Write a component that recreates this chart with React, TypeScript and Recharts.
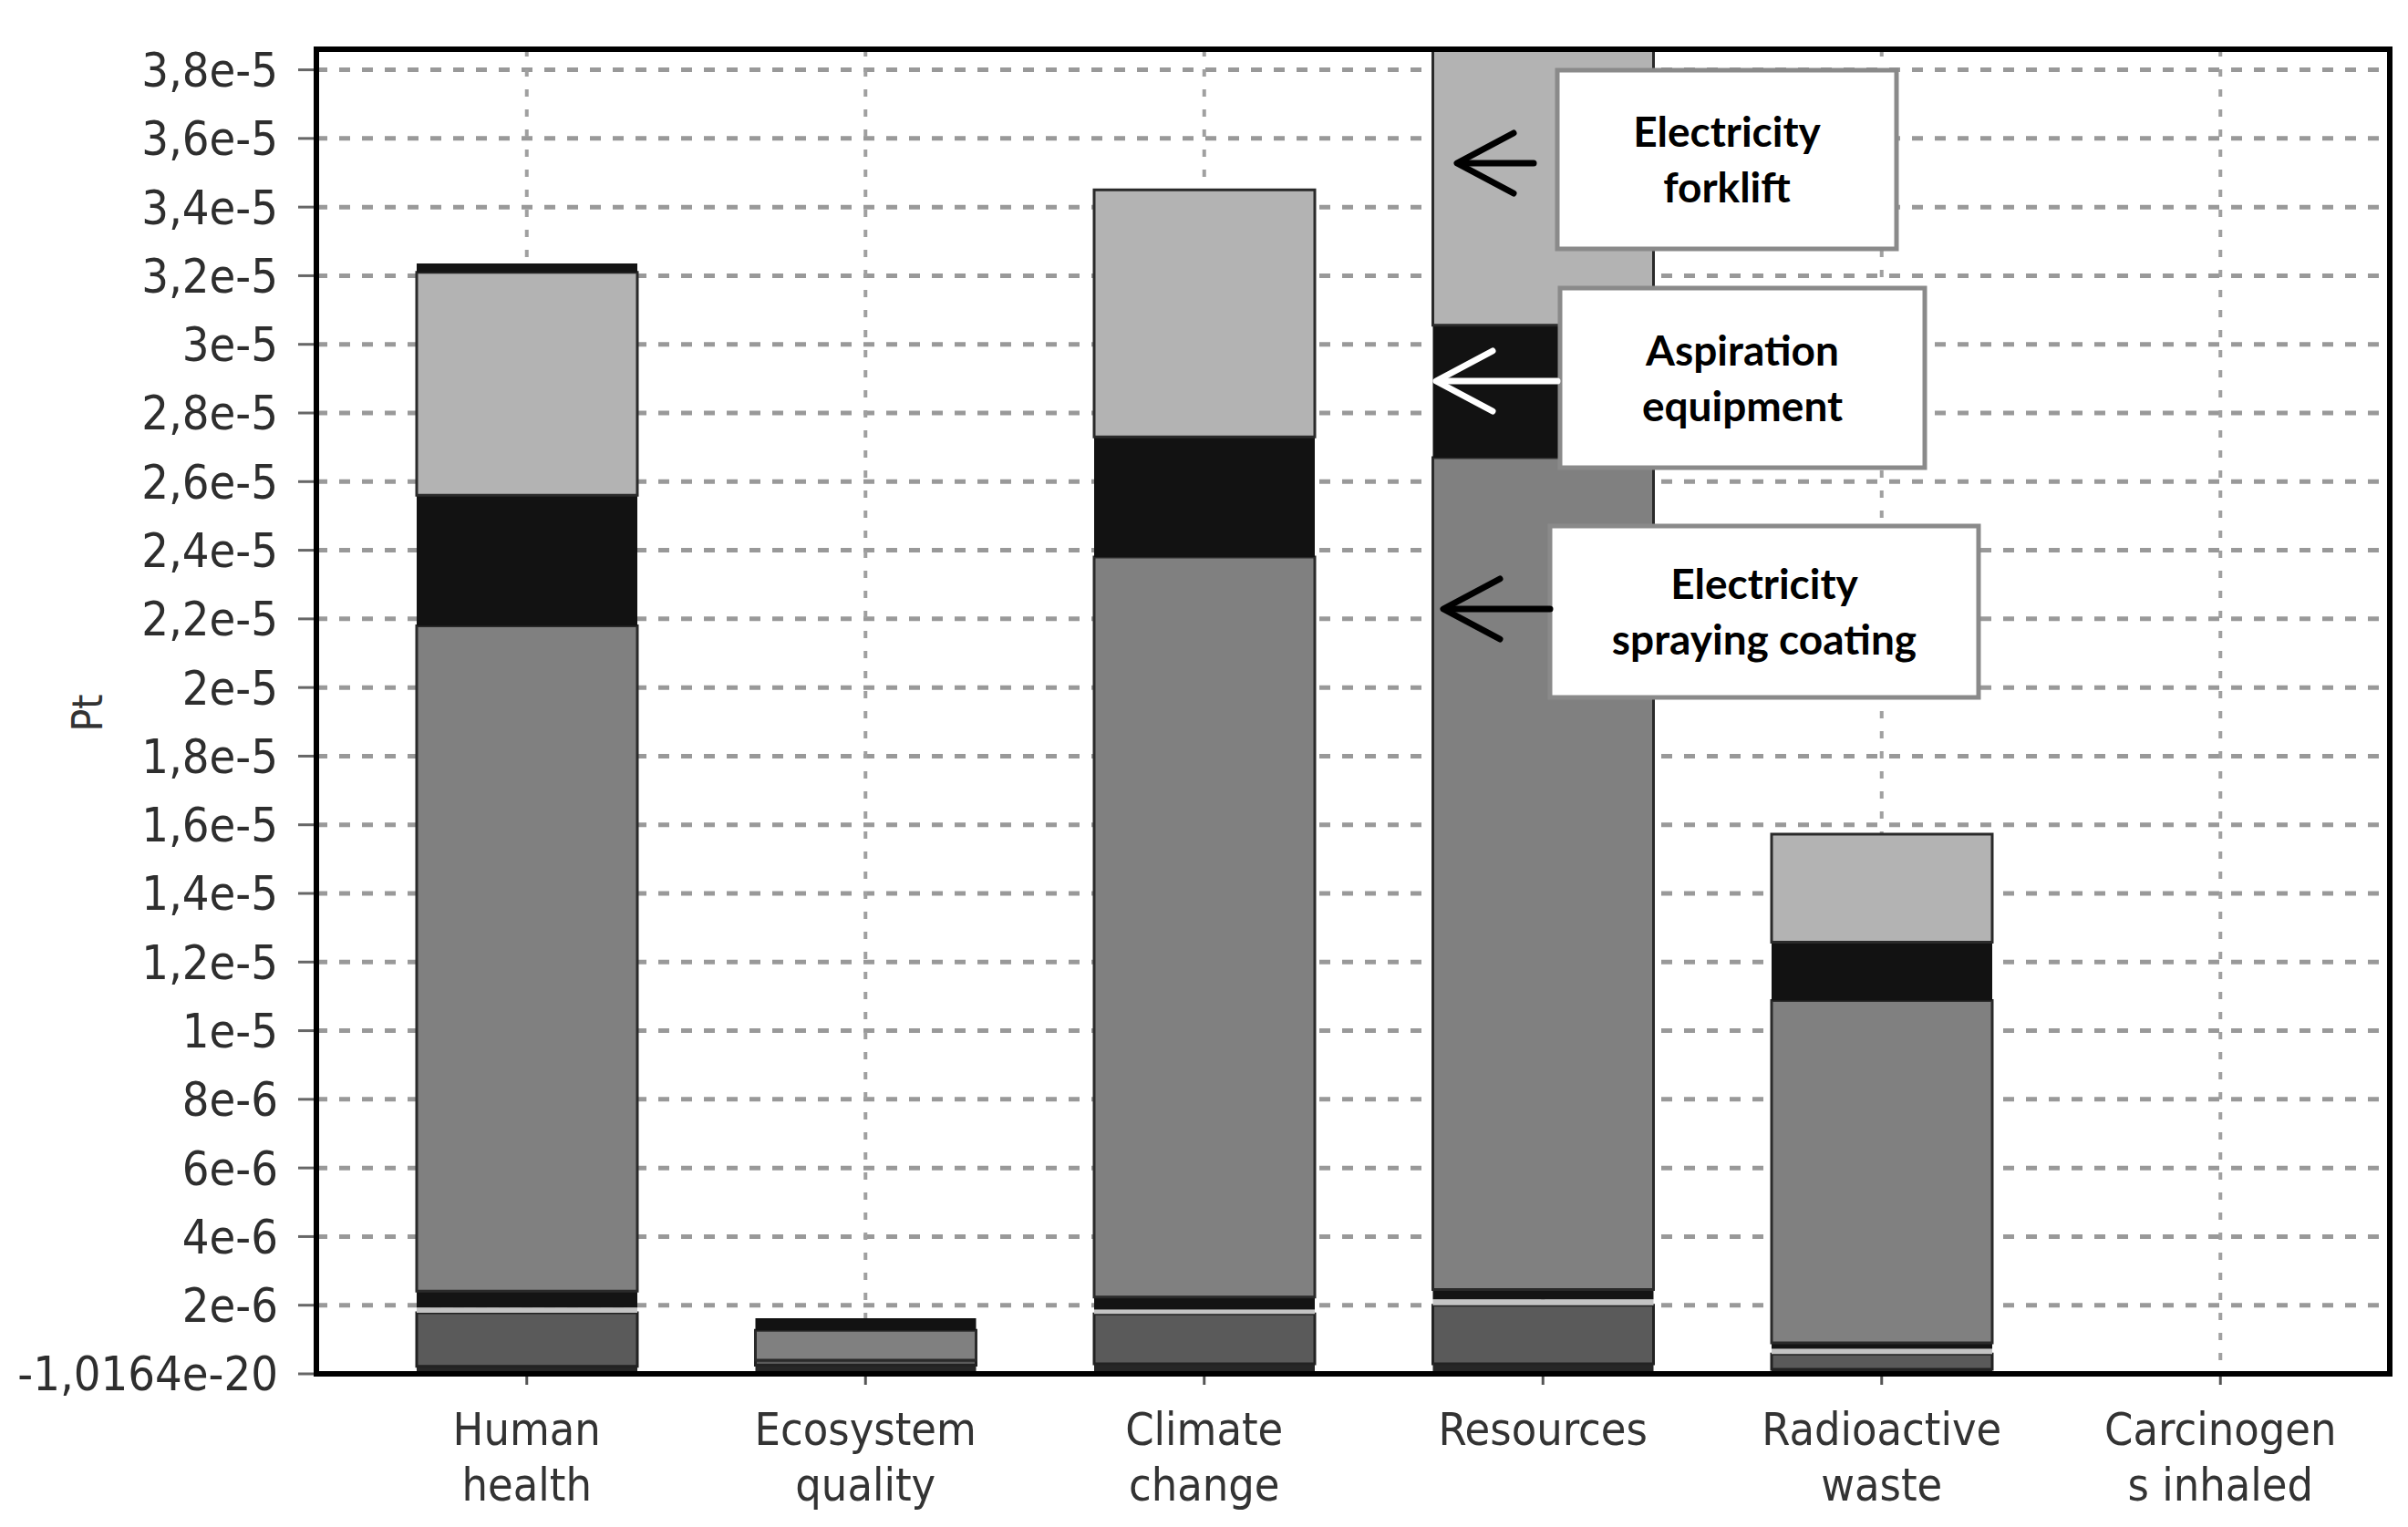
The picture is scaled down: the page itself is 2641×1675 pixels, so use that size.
import { Bar, BarChart, CartesianGrid, XAxis, YAxis } from 'recharts';

const categories = ['Human health', 'Ecosystem quality', 'Climate change', 'Resources', 'Radioactive waste', 'Carcinogens inhaled'];
const categoryLines = [
  ['Human', 'health'],
  ['Ecosystem', 'quality'],
  ['Climate', 'change'],
  ['Resources'],
  ['Radioactive', 'waste'],
  ['Carcinogen', 's inhaled'],
];

// stacked contributions, bottom to top (Pt)
const baseDark = [0.22e-6, 0.25e-6, 0.29e-6, 0.29e-6, 0.13e-6, 0];
const baseGray = [1.56e-6, 0.15e-6, 1.46e-6, 1.71e-6, 0.45e-6, 0];
const thinLight = [0.15e-6, 0, 0.12e-6, 0.17e-6, 0.15e-6, 0];
const thinBlack = [0.48e-6, 0, 0.37e-6, 0.29e-6, 0.17e-6, 0];
const sprayingCoating = [19.39e-6, 0.87e-6, 21.56e-6, 24.24e-6, 9.98e-6, 0];
const aspiration = [3.8e-6, 0.35e-6, 3.5e-6, 3.86e-6, 1.7e-6, 0];
const forklift = [6.5e-6, 0, 7.2e-6, 9.0e-6, 3.15e-6, 0];
const topBlack = [0.26e-6, 0, 0, 0, 0, 0];

const yTicks = [0, 2e-6, 4e-6, 6e-6, 8e-6, 1e-5, 1.2e-5, 1.4e-5, 1.6e-5, 1.8e-5, 2e-5, 2.2e-5, 2.4e-5, 2.6e-5, 2.8e-5, 3e-5, 3.2e-5, 3.4e-5, 3.6e-5, 3.8e-5];
const yTickLabels = ['-1,0164e-20', '2e-6', '4e-6', '6e-6', '8e-6', '1e-5', '1,2e-5', '1,4e-5', '1,6e-5', '1,8e-5', '2e-5', '2,2e-5', '2,4e-5', '2,6e-5', '2,8e-5', '3e-5', '3,2e-5', '3,4e-5', '3,6e-5', '3,8e-5'];

const data = categories.map((name, i) => ({
  name,
  baseDark: baseDark[i],
  baseGray: baseGray[i],
  thinLight: thinLight[i],
  thinBlack: thinBlack[i],
  sprayingCoating: sprayingCoating[i],
  aspiration: aspiration[i],
  forklift: forklift[i],
  topBlack: topBlack[i],
}));

const AXIS_FONT = '"DejaVu Sans Condensed", "DejaVu Sans", sans-serif';
const NOTE_FONT = 'Lato, "Open Sans", sans-serif';

const XTick = ({ x, y, index }: any) => {
  const lines = categoryLines[index] || [];
  return (
    <text x={x} y={y} textAnchor="middle" fill="#333" fontSize={50} fontFamily={AXIS_FONT}>
      {lines.map((line, i) => (
        <tspan key={i} x={x} dy={i === 0 ? 64 : 61}>
          {line}
        </tspan>
      ))}
    </text>
  );
};

const notes = [
  { x: 1708, y: 77, w: 372, h: 196, lines: ['Electricity', 'forklift'] },
  { x: 1711, y: 316, w: 400, h: 197, lines: ['Aspiration', 'equipment'] },
  { x: 1700, y: 577, w: 470, h: 188, lines: ['Electricity', 'spraying coating'] },
];

const arrows = [
  { tip: 1598, tail: 1682, y: 179, color: '#000' },
  { tip: 1575, tail: 1708, y: 418, color: '#fff' },
  { tip: 1583, tail: 1700, y: 668, color: '#000' },
];

export default function App() {
  return (
    <div style={{ position: 'fixed', left: 0, top: 0, width: 2641, height: 1675, background: '#fff' }}>
      <BarChart width={2641} height={1675} data={data} margin={{ top: 54, right: 20, bottom: 0, left: 47 }} barSize={242}>
        <CartesianGrid vertical={false} stroke="#999" strokeWidth={5} strokeDasharray="12 13" />
        <CartesianGrid horizontal={false} stroke="#a0a0a0" strokeWidth={4} strokeDasharray="8 14" />
        <XAxis
          dataKey="name"
          height={168}
          padding={{ left: 45, right: 0 }}
          tick={<XTick />}
          tickSize={12}
          tickLine={{ stroke: '#555', strokeWidth: 3 }}
          axisLine={{ stroke: '#000', strokeWidth: 6 }}
          interval={0}
        />
        <YAxis
          width={300}
          domain={[0, 3.86e-5]}
          ticks={yTicks}
          allowDataOverflow
          interval={0}
          tickFormatter={(_v, i) => yTickLabels[i]}
          tick={{ fill: '#2e2e2e', fontSize: 52, fontFamily: AXIS_FONT }}
          tickSize={20}
          tickMargin={22}
          tickLine={{ stroke: '#666', strokeWidth: 3 }}
          axisLine={{ stroke: '#000', strokeWidth: 6 }}
        />
        <Bar dataKey="baseDark" stackId="a" fill="#262626" isAnimationActive={false} />
        <Bar dataKey="baseGray" stackId="a" fill="#5a5a5a" stroke="#222" strokeWidth={3} isAnimationActive={false} />
        <Bar dataKey="thinLight" stackId="a" fill="#c4c4c4" isAnimationActive={false} />
        <Bar dataKey="thinBlack" stackId="a" fill="#141414" isAnimationActive={false} />
        <Bar dataKey="sprayingCoating" stackId="a" fill="#808080" stroke="#2a2a2a" strokeWidth={3} isAnimationActive={false} />
        <Bar dataKey="aspiration" stackId="a" fill="#121212" isAnimationActive={false} />
        <Bar dataKey="forklift" stackId="a" fill="#b3b3b3" stroke="#2a2a2a" strokeWidth={3} isAnimationActive={false} />
        <Bar dataKey="topBlack" stackId="a" fill="#141414" isAnimationActive={false} />
      </BarChart>
      <svg width={2641} height={1675} style={{ position: 'absolute', left: 0, top: 0, pointerEvents: 'none' }}>
        <rect x={347} y={54} width={2274} height={1453} fill="none" stroke="#000" strokeWidth={6} />
        <text x={112} y={782} transform="rotate(-90 112 782)" textAnchor="middle" fill="#333" fontSize={46} fontFamily={AXIS_FONT}>
          Pt
        </text>
        {notes.map((n, i) => (
          <g key={i}>
            <rect x={n.x} y={n.y} width={n.w} height={n.h} fill="#fff" stroke="#8a8a8a" strokeWidth={5} />
            {n.lines.map((line, j) => (
              <text
                key={j}
                x={n.x + n.w / 2}
                y={n.y + n.h / 2 + (j === 0 ? -30 : 31)}
                dy="0.35em"
                textAnchor="middle"
                fill="#000"
                fontSize={46}
                fontWeight={700}
                fontFamily={NOTE_FONT}
              >
                {line}
              </text>
            ))}
          </g>
        ))}
        {arrows.map((a, i) => (
          <g key={i} stroke={a.color} strokeWidth={7} strokeLinecap="round" fill="none">
            <line x1={a.tail} y1={a.y} x2={a.tip + 4} y2={a.y} />
            <polyline points={`${a.tip + 62},${a.y - 33} ${a.tip},${a.y} ${a.tip + 62},${a.y + 33}`} strokeLinejoin="round" />
          </g>
        ))}
      </svg>
    </div>
  );
}
